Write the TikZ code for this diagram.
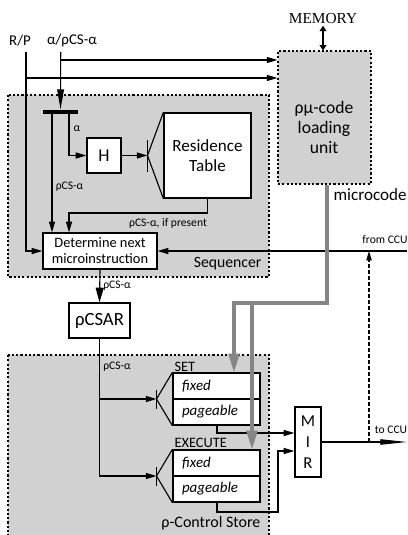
\documentclass[tikz,border=0pt]{standalone}
\usepackage{fontspec}
\setmainfont{Carlito}
\newfontfamily\memfont{Liberation Serif}
\usetikzlibrary{arrows.meta}
\begin{document}
\begin{tikzpicture}[x=0.75pt,y=-0.75pt, line width=0.85pt,
 >={Triangle[length=8pt,width=4.5pt]},
 box/.style={draw, fill=white, line width=0.95pt, inner sep=0pt, align=center},
 region/.style={draw, fill=black!18, line width=0.8pt, dash pattern=on 1.6pt off 1.6pt},
 sz/.style 2 args={minimum width=#1*0.75pt, minimum height=#2*0.75pt},
 small/.style={font=\fontsize{8.7}{9}\selectfont, inner sep=0pt},
 mid/.style={font=\fontsize{11.2}{12}\selectfont, inner sep=0pt},
 itbox/.style={box, sz={87}{26}, text width=69*0.75pt, align=left, font=\itshape\fontsize{11.2}{12}\selectfont},
 gline/.style={line width=2.5pt, draw=black!48},
 gtip/.style={-{Triangle[length=14pt,width=8pt]}},
 bartip/.style={-{Triangle[length=15pt,width=5pt]}},
 csartip/.style={-{Triangle[length=11pt,width=6pt]}},
 longtip/.style={-{Triangle[length=20pt,width=4pt]}},
 dtip/.style={-{Triangle[length=7pt,width=4pt]}, dash pattern=on 3pt off 1.5pt},
]
\useasboundingbox (0,0) rectangle (407,535);
% regions
\draw[region] (8,95) rectangle (269,277);
\draw[region] (8,355) rectangle (269,545);
\node[region, sz={93}{133}, inner sep=0pt] (lu) at (324.5,117.5) {};
\node[align=center, font=\fontsize{13.2}{15}\selectfont] (lutxt) at (324,127) {ρμ-code\\loading\\unit};
% boxes
\node[fill=black, inner sep=0pt, sz={35}{4}] (bar) at (60.5,112) {};
\node[box, sz={34}{35}, font=\fontsize{13.5}{15}\selectfont] (H) at (104,155.5) {H};
\node[box, sz={87}{85}, font=\fontsize{12.8}{14.5}\selectfont] (rt) at (207.5,155.5) {Residence\\Table};
\node[box, sz={114}{36}, font=\fontsize{10.8}{12}\selectfont] (det) at (100,251) {Determine next\\microinstruction};
\node[box, sz={61}{35}, font=\fontsize{14}{16}\selectfont] (csar) at (99.5,320.5) {ρCSAR};
\node[itbox] (sf) at (216.5,386) {fixed};
\node[itbox] (sp) at (216.5,412) {pageable};
\node[itbox] (ef) at (216.5,463) {fixed};
\node[itbox] (ep) at (216.5,489) {pageable};
\node[box, sz={26}{70}, font=\fontsize{12.5}{15.5}\selectfont] (mir) at (308,442) {M\\I\\R};
% texts
\node[mid] (rplbl) at (20,41) {R/P};
\node[mid] (allbl) at (72,41) {α/ρCS-α};
\node[font=\memfont\fontsize{11.5}{12}\selectfont, inner sep=0pt] (mem) at (323,18) {MEMORY};
\node[small] (lalpha) at (77,129) {α};
\node[small] (lcs1) at (69.5,187) {ρCS-α};
\node[small] (lif) at (168,223) {ρCS-α, if present};
\node[small] (lfrom) at (385,240) {from CCU};
\node[font=\fontsize{11.8}{12}\selectfont, inner sep=0pt, anchor=east] (lseq) at (262,264) {Sequencer};
\node[font=\fontsize{12.8}{13}\selectfont, inner sep=0pt, anchor=west] (lmc) at (333,195) {microcode};
\node[small] (lcs2) at (117,286) {ρCS-α};
\node[small] (lcs3) at (117,367) {ρCS-α};
\node[font=\fontsize{10.8}{12}\selectfont, inner sep=0pt, anchor=west] (lset) at (174,367) {SET};
\node[font=\fontsize{10.8}{12}\selectfont, inner sep=0pt, anchor=west] (lexe) at (174,443) {EXECUTE};
\node[small] (lto) at (391,430) {to CCU};
\node[font=\fontsize{12}{12}\selectfont, inner sep=0pt, anchor=east] (lcst) at (261,523) {ρ-Control Store};
% coordinates
\coordinate (rp) at (26,52);
\coordinate (al) at (60.7,52);
\coordinate (rpb) at (26,78);
\coordinate (alb) at (60.7,60);
\coordinate (b1) at (52,112);
\coordinate (b2) at (69,112);
\coordinate (rtap) at (147.5,155.5);
\coordinate (rtl) at (69,213);
\coordinate (fccu) at (407,251);
\coordinate (setap) at (156.5,399);
\coordinate (exap) at (156.5,476);
\coordinate (so) at (217,433);
\coordinate (eo1) at (217,512);
\coordinate (eo2) at (278,512);
\coordinate (eo3) at (278,451);
\coordinate (tccu) at (407,442);
\coordinate (dj) at (369,442);
\coordinate (g0) at (327,303);
\coordinate (g1) at (234,303);
\coordinate (g2) at (252,303);
% connectors
\draw[->] (rp) |- (det.west);
\draw[->] (rpb) -- (rpb -| lu.west);
\draw[->] (alb) -- (alb -| lu.west);
\draw[bartip] (al) -- (bar.north);
\draw[->] (b1) -- (b1 |- det.north);
\draw[->] (b2) |- (H.west);
\draw[->] (H.east) -- (rtap);
\draw (147.5,140) -- (147.5,172);
\draw (rtap) -- (rt.north west);
\draw (rtap) -- (rt.south west);
\draw[->] (rt.south) |- (rtl) -- (rtl |- det.north);
\draw[->] (fccu) -- (det.east);
\draw[csartip] (det.south) -- (csar.north);
\draw[->] (csar.south) |- (setap);
\draw[->] (csar.south) |- (exap);
\draw (156.5,390) -- (156.5,409);
\draw (setap) -- (sf.north west);
\draw (setap) -- (sp.south west);
\draw (156.5,467) -- (156.5,486);
\draw (exap) -- (ef.north west);
\draw (exap) -- (ep.south west);
\draw[->] (sp.south -| so) -- (so) -- (so -| mir.west);
\draw[->] (ep.south -| eo1) -- (eo1) -- (eo2) -- (eo3) -- (eo3 -| mir.west);
\draw[longtip] (mir.east) -- (tccu);
\draw[dtip] (dj) -- (dj |- fccu);
\draw[gline, gtip] (lu.south -| g0) -- (g0) -- (g1) -- (g1 |- sf.north);
\draw[gline, gtip] (g2) -- (g2 |- ef.north);
\draw[line width=1.2pt, {Triangle[length=4pt,width=5pt]}-{Triangle[length=4pt,width=5pt]}] ([yshift=-1.5pt]mem.south) -- (mem.south |- lu.north);
\end{tikzpicture}
\end{document}
